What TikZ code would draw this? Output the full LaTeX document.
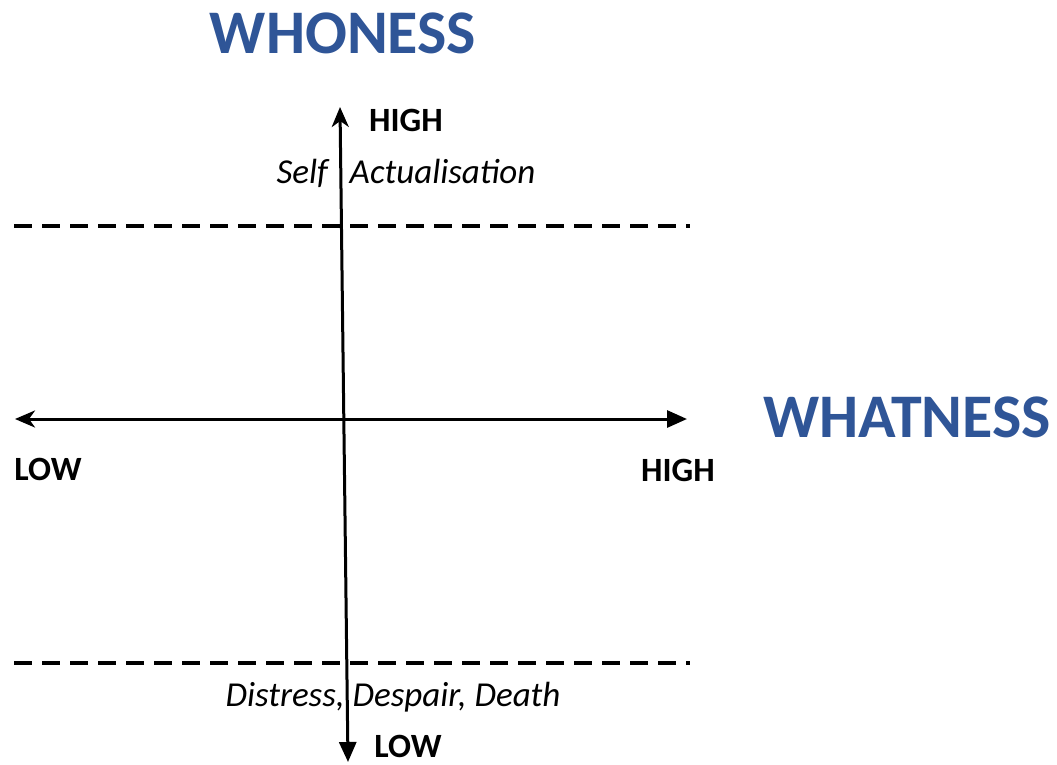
\documentclass[tikz,border=0pt]{standalone}
\usepackage{fontspec}
\setmainfont{Carlito}
\usetikzlibrary{arrows.meta}
\definecolor{headblue}{RGB}{47,85,151}
\tikzset{
  axisline/.style={line width=3pt},
  backtip/.tip={Stealth[length=20pt, width=17pt, inset=6pt]},
  fronttip/.tip={Triangle[length=20pt, width=17pt]},
  levelline/.style={line width=3.5pt, dash pattern=on 18pt off 10pt},
  endlabel/.style={inner sep=0pt, anchor=base, font=\fontsize{34}{40}\selectfont\bfseries},
  zonelabel/.style={inner sep=0pt, anchor=base, font=\fontsize{35}{40}\selectfont\itshape},
  heading/.style={inner sep=0pt, anchor=base, text=headblue, font=\fontsize{62}{70}\selectfont\bfseries}
}

\begin{document}
\begin{tikzpicture}[x=1pt, y=-1pt]
			%%%%% START %%%%%
			\useasboundingbox (0, 0) rectangle (1057, 764);
			
			% axis ends
			\coordinate (whotop) at (340, 107);
			\coordinate (whobot) at (348, 762);
			\coordinate (whatlow) at (15, 419);
			\coordinate (whathigh) at (687, 419);
			
			% level lines
			\coordinate (upperl) at (14, 226);
			\coordinate (upperr) at (690, 226);
			\coordinate (lowerl) at (14, 663);
			\coordinate (lowerr) at (690, 663);
			\draw[levelline] (upperl) -- (upperr);
			\draw[levelline] (lowerl) -- (lowerr);
			
			\draw[axisline, backtip-fronttip] (whatlow) -- (whathigh);
			\draw[axisline, backtip-fronttip] (whotop) -- (whobot);
			
			% titles
			\node[heading] (whoness) at (343, 53) {WHONESS};
			\node[heading] (whatness) at (907, 437) {WHATNESS};
			
			% end labels
			\node[endlabel] (whohigh) at (406, 131) {HIGH};
			\node[endlabel] (wholow) at (408, 757) {LOW};
			\node[endlabel] (whatlowlbl) at (48, 480) {LOW};
			\node[endlabel] (whathighlbl) at (678, 481) {HIGH};
			
			% zone labels
			\node[zonelabel] (selfact) at (406, 183) {Self\hspace{14pt} Actualisation};
			\node[zonelabel] (distress) at (393, 706) {Distress, Despair, Death};
			%%%%% END %%%%%
\end{tikzpicture}
\end{document}
